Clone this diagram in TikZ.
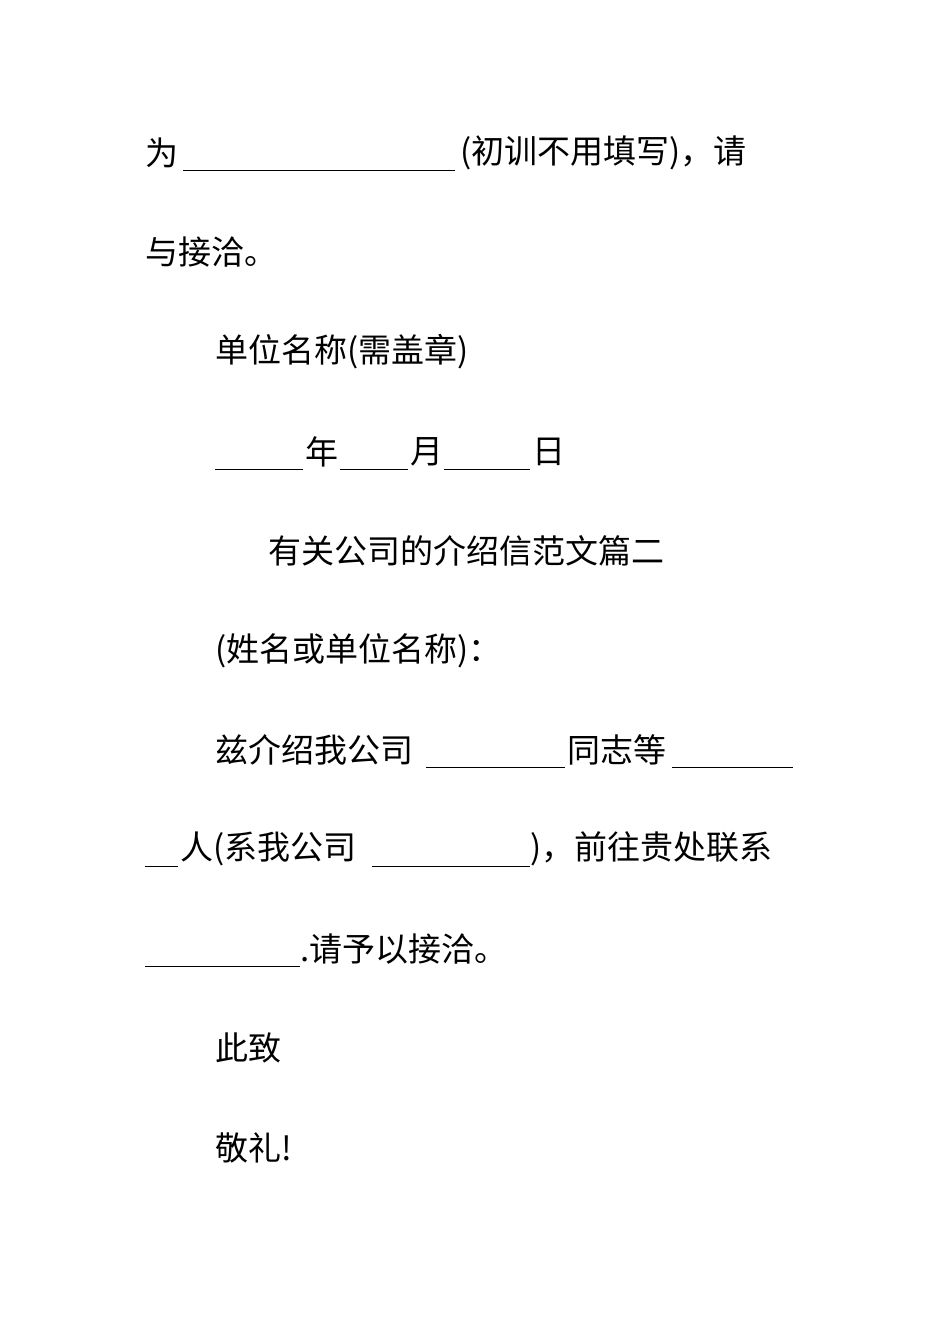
\documentclass[tikz,border=0pt]{standalone}
\usepackage{fontspec}
\setmainfont{Noto Sans CJK SC}
\begin{document}
\begin{tikzpicture}[x=1pt,y=-1pt,
  t/.style={anchor=west,inner sep=0pt,font=\fontsize{33}{33}\selectfont},
  ul/.style={line width=1pt}]
\useasboundingbox (0,0) rectangle (950,1344);
% line 1
\node[t] (a1) at (145,153) {为};
\draw[ul] (183,170) -- (455,170);
\node[t] (a2) at (460,153) {(初训不用填写)，请};
\node[t] (b1) at (145,252) {与接洽。};
\node[t] (c1) at (215,352) {单位名称(需盖章)};
% line 4
\draw[ul] (215,469) -- (303,469);
\node[t] (d1) at (305,452) {年};
\draw[ul] (340,469) -- (408,469);
\node[t] (d2) at (410,452) {月};
\draw[ul] (444,469) -- (530,469);
\node[t] (d3) at (532,452) {日};
\node[t] (e1) at (268,551) {有关公司的介绍信范文篇二};
\node[t] (f1) at (215,651) {(姓名或单位名称)：};
% line 7
\node[t] (g1) at (215,750) {兹介绍我公司};
\draw[ul] (426,767) -- (565,767);
\node[t] (g2) at (567,750) {同志等};
\draw[ul] (672,767) -- (793,767);
% line 8
\draw[ul] (145,866) -- (178,866);
\node[t] (h1) at (180,849) {人(系我公司};
\draw[ul] (372,866) -- (530,866);
\node[t] (h2) at (530,849) {)，前往贵处联系};
% line 9
\draw[ul] (145,966) -- (300,966);
\node[t] (i1) at (300,949) {.请予以接洽。};
\node[t] (j1) at (215,1048) {此致};
\node[t] (k1) at (215,1148) {敬礼!};
\end{tikzpicture}
\end{document}
